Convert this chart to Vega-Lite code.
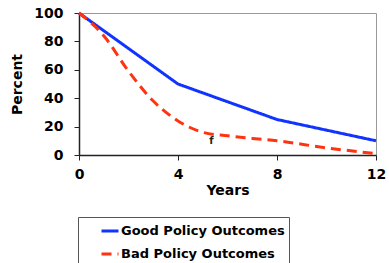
{
  "$schema": "https://vega.github.io/schema/vega-lite/v6.json",
  "width": 297,
  "height": 142,
  "autosize": "none",
  "padding": {"left": 79, "top": 13, "right": 13, "bottom": 108},
  "background": "white",
  "config": {
    "font": "DejaVu Sans",
    "view": {"stroke": "#999999", "strokeWidth": 1},
    "axis": {
      "grid": false,
      "domainColor": "#222222",
      "domainWidth": 1.5,
      "tickColor": "#222222",
      "tickSize": 5,
      "labelOverlap": false,
      "labelFlush": false,
      "labelFont": "DejaVu Sans",
      "labelFontWeight": "bold",
      "labelFontSize": 14,
      "labelColor": "black",
      "titleFont": "DejaVu Sans",
      "titleFontWeight": "bold",
      "titleFontSize": 14,
      "titleColor": "black"
    },
    "legend": {
      "orient": "none",
      "legendX": -1,
      "legendY": 204,
      "strokeColor": "#555555",
      "padding": 4,
      "symbolOffset": 18,
      "symbolType": "stroke",
      "symbolSize": 289,
      "symbolStrokeWidth": 3,
      "labelFont": "DejaVu Sans",
      "labelFontWeight": "bold",
      "labelFontSize": 13,
      "labelColor": "black",
      "labelOffset": 1,
      "rowPadding": 6,
      "labelLimit": 300
    }
  },
  "datasets": {
    "lines": [
      {"series": "Good Policy Outcomes", "year": 0, "pct": 100},
      {"series": "Good Policy Outcomes", "year": 4, "pct": 50},
      {"series": "Good Policy Outcomes", "year": 8, "pct": 25},
      {"series": "Good Policy Outcomes", "year": 12, "pct": 10},
      {"series": "Bad Policy Outcomes", "year": 0, "pct": 100},
      {"series": "Bad Policy Outcomes", "year": 1, "pct": 84},
      {"series": "Bad Policy Outcomes", "year": 2, "pct": 59},
      {"series": "Bad Policy Outcomes", "year": 3, "pct": 38},
      {"series": "Bad Policy Outcomes", "year": 4, "pct": 24},
      {"series": "Bad Policy Outcomes", "year": 5, "pct": 16},
      {"series": "Bad Policy Outcomes", "year": 6, "pct": 13.5},
      {"series": "Bad Policy Outcomes", "year": 7, "pct": 11.7},
      {"series": "Bad Policy Outcomes", "year": 8, "pct": 10},
      {"series": "Bad Policy Outcomes", "year": 10, "pct": 5},
      {"series": "Bad Policy Outcomes", "year": 12, "pct": 1}
    ],
    "note": [{"year": 5.35, "pct": 10, "label": "f"}]
  },
  "encoding": {
    "x": {
      "field": "year", "type": "quantitative",
      "scale": {"domain": [0, 12], "nice": false},
      "axis": {"values": [0, 4, 8, 12], "title": "Years", "labelPadding": 7, "titlePadding": 2}
    },
    "y": {
      "field": "pct", "type": "quantitative",
      "scale": {"domain": [0, 100], "nice": false},
      "axis": {"values": [0, 20, 40, 60, 80, 100], "title": "Percent", "labelPadding": 11, "titlePadding": 9}
    }
  },
  "layer": [
    {
      "data": {"name": "lines"},
      "transform": [{"filter": "datum.series === 'Good Policy Outcomes'"}],
      "mark": {"type": "line", "strokeWidth": 3, "interpolate": "linear", "clip": false},
      "encoding": {
        "color": {
          "field": "series", "type": "nominal",
          "scale": {"domain": ["Good Policy Outcomes", "Bad Policy Outcomes"], "range": ["#1133ff", "#ff3311"]},
          "legend": {"title": null}
        },
        "strokeDash": {
          "field": "series", "type": "nominal",
          "scale": {"domain": ["Good Policy Outcomes", "Bad Policy Outcomes"], "range": [[1, 0], [10, 6]]},
          "legend": {"title": null}
        }
      }
    },
    {
      "data": {"name": "lines"},
      "transform": [{"filter": "datum.series === 'Bad Policy Outcomes'"}],
      "mark": {"type": "line", "strokeWidth": 3, "interpolate": "monotone", "clip": false},
      "encoding": {
        "color": {"field": "series", "type": "nominal", "legend": {"title": null}},
        "strokeDash": {"field": "series", "type": "nominal", "legend": {"title": null}}
      }
    },
    {
      "data": {"name": "note"},
      "mark": {"type": "text", "fontSize": 10, "fontWeight": "bold", "color": "#222222", "baseline": "middle"},
      "encoding": {
        "text": {"field": "label"}
      }
    }
  ]
}
